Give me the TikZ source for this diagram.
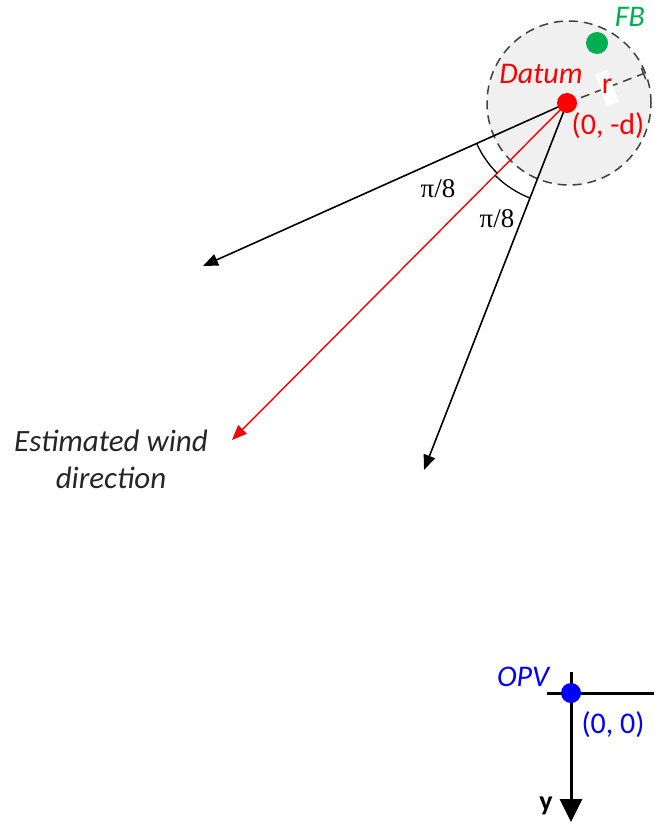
\documentclass[tikz,border=0pt]{standalone}
\usepackage{fontspec}
\setmainfont{Carlito}
\newfontfamily\timesfont{Liberation Serif}
\usetikzlibrary{arrows.meta,calc}
\definecolor{fbgreen}{RGB}{0,176,80}
\definecolor{circgray}{RGB}{240,240,240}
\tikzset{
  vec/.style={line width=1.6pt,-{Triangle[width=12pt,length=15pt]}},
  lbl/.style={inner sep=0pt,font=\fontsize{30}{34}\selectfont},
  ilbl/.style={inner sep=0pt,font=\itshape\fontsize{30}{34}\selectfont},
  dot/.style={circle,inner sep=0pt,minimum size=#1},
  angarc/.style={line width=1.3pt},
  pilbl/.style={inner sep=0pt,font=\timesfont\fontsize{27}{30}\selectfont}
}
\begin{document}
\begin{tikzpicture}[x=1pt,y=1pt]
\useasboundingbox (0,0) rectangle (654,-826);
% circle region
\node[circle,draw=black!75,fill=circgray,dash pattern=on 9pt off 6pt,line width=1.5pt,minimum size=164pt,inner sep=0pt] (circ) at (569,-103) {};
\coordinate (D) at (567,-103);
% radius
\coordinate (E) at ($(D)+(21:82)$);
\draw[black!75,line width=1.5pt,dash pattern=on 9pt off 6pt] (D) -- (E);
\draw[black!75,line width=1.5pt] ($(E)+(111:6)$) -- ($(E)+(-69:6)$);
\node[fill=white,rotate=20,minimum width=13pt,minimum height=34pt,inner sep=0pt] (rbox) at (607,-88) {};
\node[lbl,text=red] (rlbl) at (607,-86) {r};
% vectors
\coordinate (A1) at (203,-266);
\coordinate (A2) at (424,-470);
\coordinate (R) at (232,-440);
\draw[vec] (D) -- (A1);
\draw[vec] (D) -- (A2);
\draw[vec,red,line width=1.4pt] (D) -- (R);
% angle arcs
\draw[angarc] ($(D)+(204.1:99)$) arc[start angle=204.1,end angle=225.2,radius=99];
\draw[angarc] ($(D)+(225.2:102)$) arc[start angle=225.2,end angle=248.7,radius=102];
\node[pilbl] (p1) at (438,-189) {π/8};
\node[pilbl] (p2) at (497,-219) {π/8};
% dots
\node[dot=20pt,fill=red] (datum) at (D) {};
\node[dot=22pt,fill=fbgreen] (fb) at (597,-43) {};
% labels
\node[ilbl,text=fbgreen] (fbl) at (630,-17) {FB};
\node[ilbl,text=red] (datl) at (541,-74) {Datum};
\node[lbl,text=red] (dpos) at (608,-126) {(0, -d)};
\node[inner sep=0pt,align=center,font=\itshape\fontsize{31}{37}\selectfont,text=black!85] (wind) at (111,-459) {Estimated wind\\direction};
% OPV axes
\coordinate (O) at (571,-693);
\coordinate (Xe) at (654,-693);
\coordinate (Xs) at (547,-693);
\coordinate (Ys) at (571,-672);
\coordinate (Ye) at (571,-822);
\draw[line width=3pt] (Xs) -- (Xe);
\draw[line width=3pt,-{Triangle[width=22pt,length=23pt]}] (Ys) -- (Ye);
\node[dot=20pt,fill=blue] (opv) at (O) {};
\node[ilbl,text=blue] (opvl) at (523,-677) {OPV};
\node[lbl,text=blue] (opos) at (613,-725) {(0, 0)};
\node[inner sep=0pt,font=\bfseries\fontsize{28}{30}\selectfont] (ylbl) at (546,-806) {y};
\end{tikzpicture}
\end{document}
